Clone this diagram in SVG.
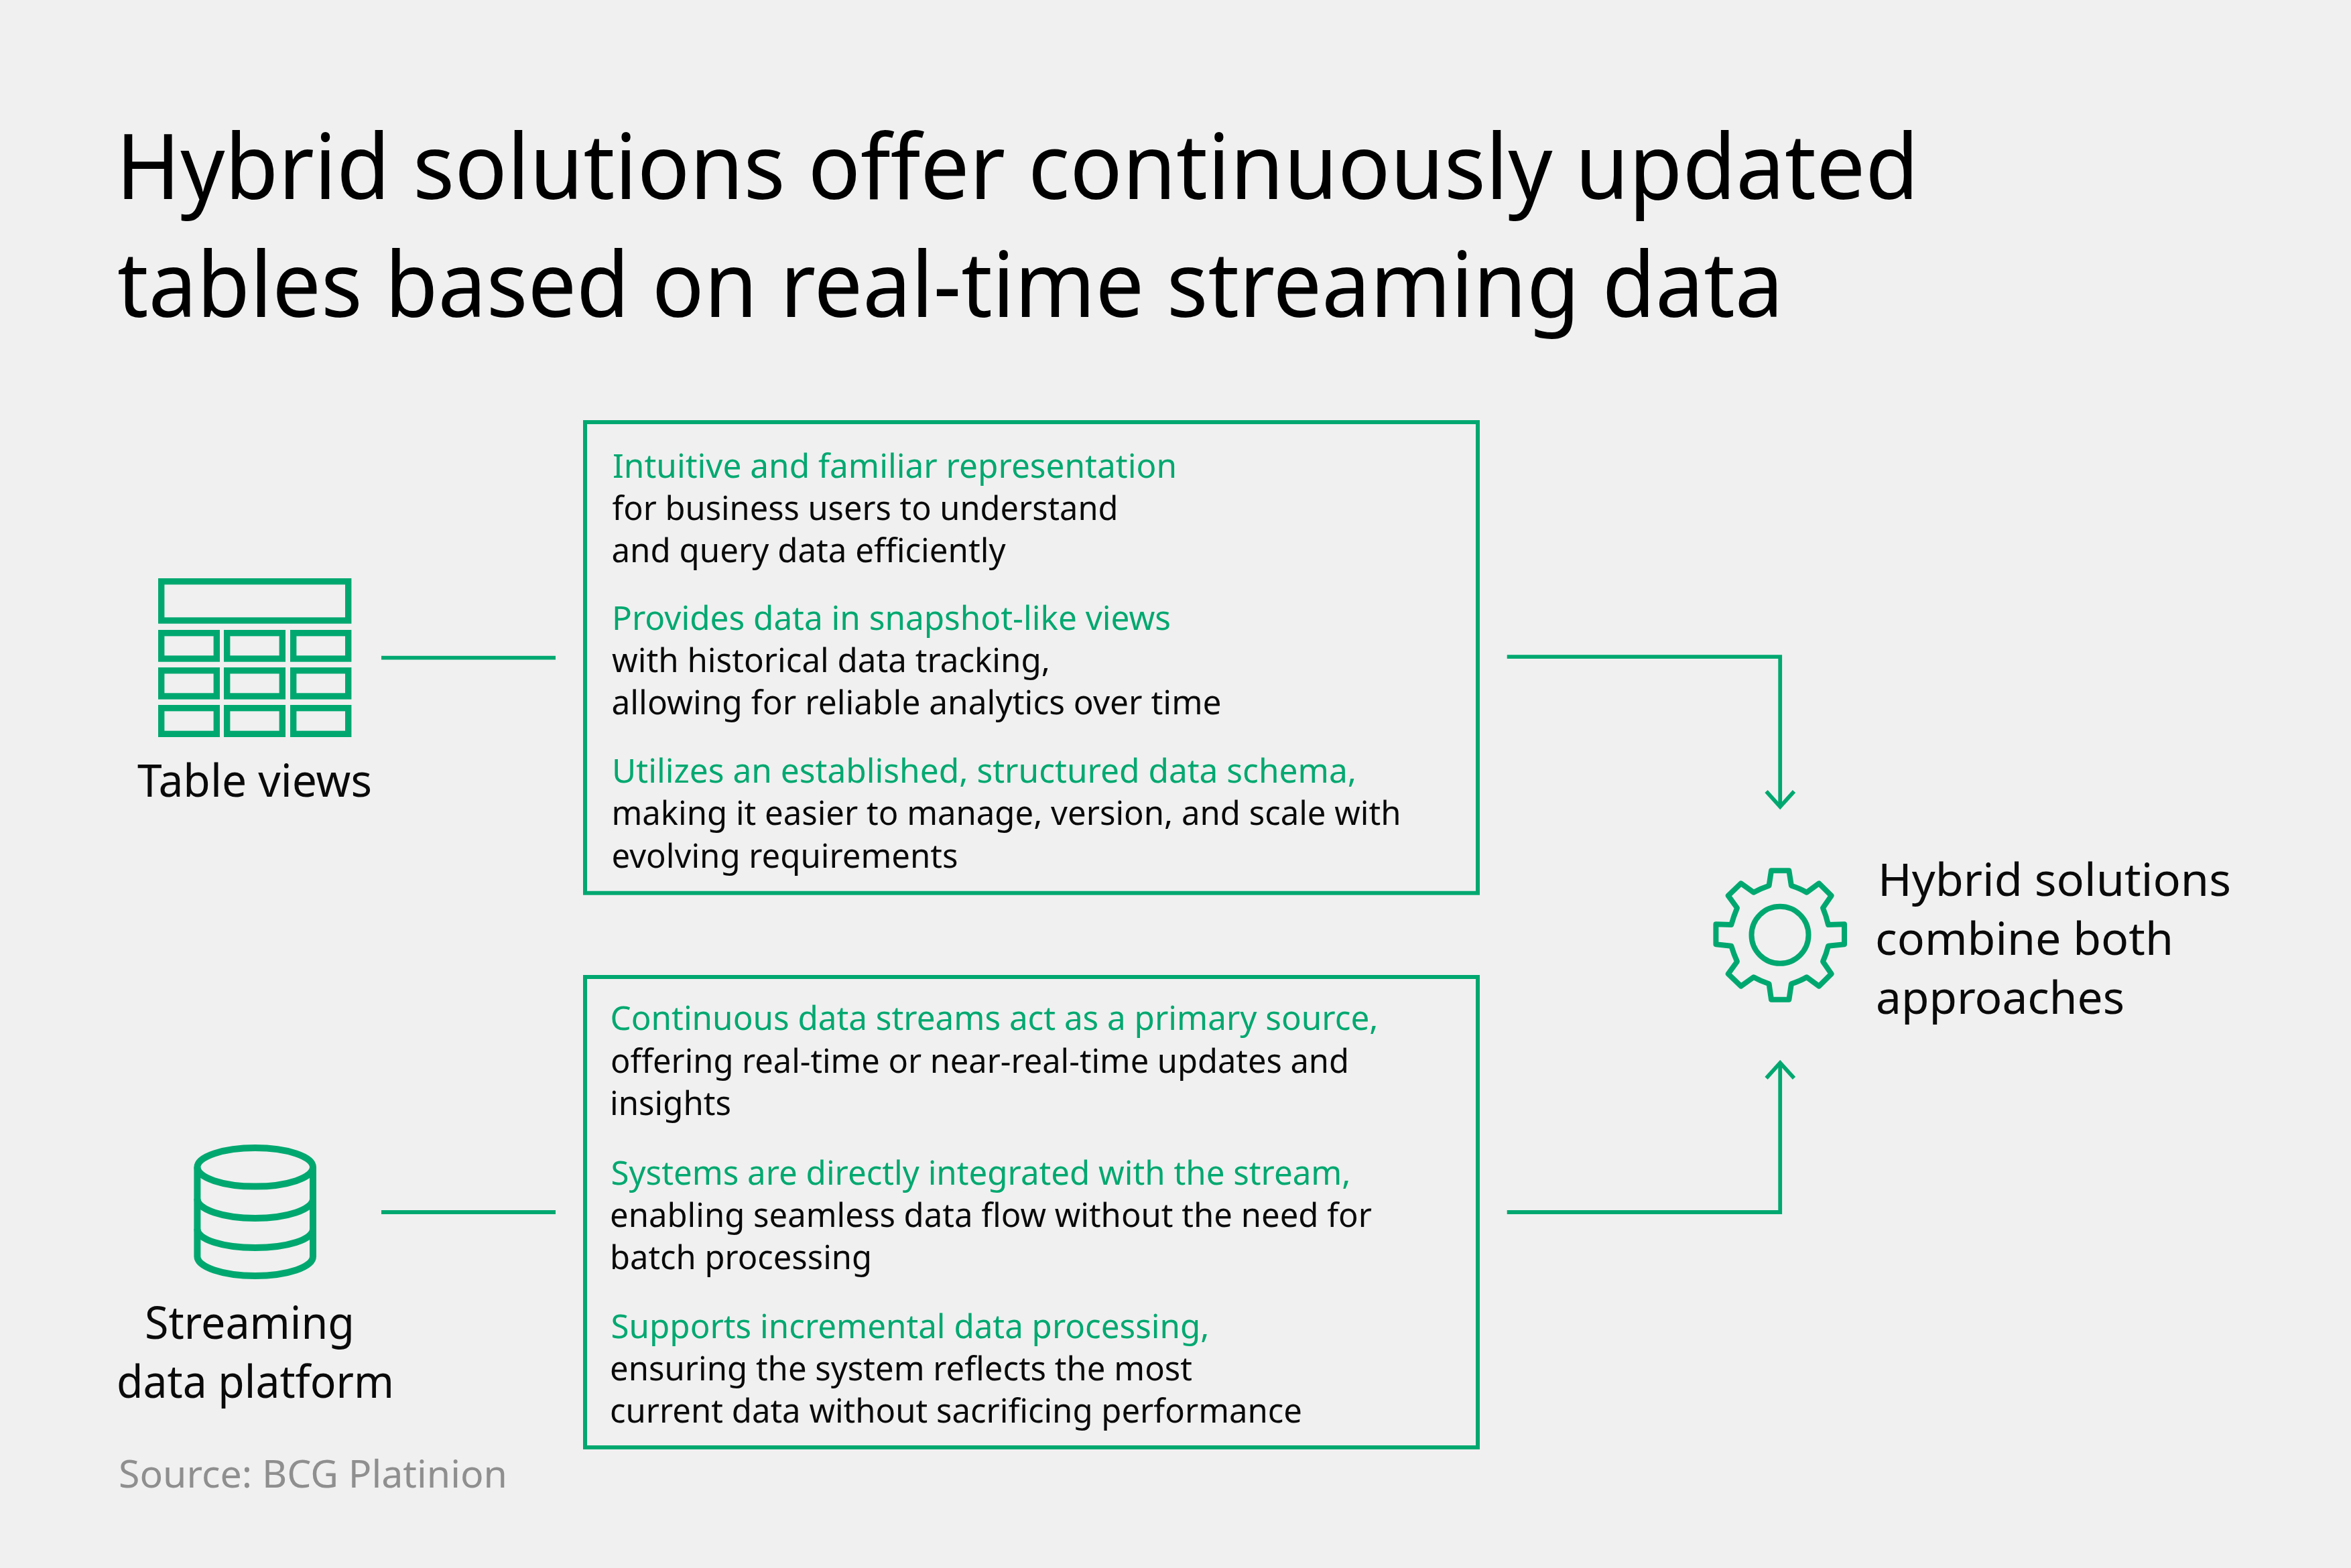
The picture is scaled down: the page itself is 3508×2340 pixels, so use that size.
<svg xmlns="http://www.w3.org/2000/svg" width="3508" height="2340" viewBox="0 0 3508 2340">
<style>
text{font-family:"Noto Sans","Open Sans","Liberation Sans",sans-serif;fill:#0a0a0a}
.t{font-size:136px;fill:#000}
.l{font-size:67px}
.b{font-size:50px}
.g{fill:#00a870}
.s{fill:#8f8f8f;font-size:56px}
.o{fill:none;stroke:#00a870;stroke-width:6}
.i{fill:none;stroke:#00a870;stroke-width:9.4}
</style>
<rect width="3508" height="2340" fill="#f0f0f0"/>
<g id="title">
<text class="t" x="173" y="296.700" textLength="2690" lengthAdjust="spacingAndGlyphs">Hybrid solutions offer continuously updated</text>
<text class="t" x="175" y="472.700" textLength="2486" lengthAdjust="spacingAndGlyphs">tables based on real-time streaming data</text>
</g>
<g id="table-views">
<g class="i">
<rect x="240.700" y="867.700" width="279" height="58.300"/>
<rect x="240.700" y="944.700" width="82.600" height="38.300"/><rect x="338.700" y="944.700" width="82.600" height="38.300"/><rect x="437.700" y="944.700" width="82" height="38.300"/>
<rect x="240.700" y="1000.700" width="82.600" height="38.300"/><rect x="338.700" y="1000.700" width="82.600" height="38.300"/><rect x="437.700" y="1000.700" width="82" height="38.300"/>
<rect x="240.700" y="1056.700" width="82.600" height="38.600"/><rect x="338.700" y="1056.700" width="82.600" height="38.600"/><rect x="437.700" y="1056.700" width="82" height="38.600"/>
</g>
<text class="l" x="205" y="1189" textLength="350" lengthAdjust="spacingAndGlyphs">Table views</text>
</g>
<g id="streaming">
<g class="i" style="stroke-width:10">
<ellipse cx="380.700" cy="1741.800" rx="86.300" ry="28.800"/>
<path d="M294.400 1741.800V1875C294.400 1891 333 1904 380.700 1904S467 1891 467 1875V1741.800"/>
<path d="M294.400 1789C294.400 1805 333 1818 380.700 1818S467 1805 467 1789"/>
<path d="M294.400 1834C294.400 1850 333 1862 380.700 1862S467 1850 467 1834"/>
</g>
<text class="l" x="216" y="1998" textLength="313" lengthAdjust="spacingAndGlyphs">Streaming</text>
<text class="l" x="174" y="2085.500" textLength="414" lengthAdjust="spacingAndGlyphs">data platform</text>
</g>
<g id="box-table">
<rect class="o" x="873" y="630" width="1332" height="702.700"/>
<text class="b g" x="914" y="713" textLength="842" lengthAdjust="spacingAndGlyphs">Intuitive and familiar representation</text>
<text class="b" x="913.500" y="775.500" textLength="755" lengthAdjust="spacingAndGlyphs">for business users to understand</text>
<text class="b" x="912.500" y="838.500" textLength="588" lengthAdjust="spacingAndGlyphs">and query data efficiently</text>
<text class="b g" x="913" y="939.500" textLength="834" lengthAdjust="spacingAndGlyphs">Provides data in snapshot-like views</text>
<text class="b" x="913" y="1002.500" textLength="654" lengthAdjust="spacingAndGlyphs">with historical data tracking,</text>
<text class="b" x="912.500" y="1066" textLength="910" lengthAdjust="spacingAndGlyphs">allowing for reliable analytics over time</text>
<text class="b g" x="913" y="1168" textLength="1111" lengthAdjust="spacingAndGlyphs">Utilizes an established, structured data schema,</text>
<text class="b" x="912.500" y="1231" textLength="1178" lengthAdjust="spacingAndGlyphs">making it easier to manage, version, and scale with</text>
<text class="b" x="912.500" y="1294.500" textLength="517" lengthAdjust="spacingAndGlyphs">evolving requirements</text>
</g>
<g id="box-stream">
<rect class="o" x="873" y="1458" width="1332" height="702"/>
<text class="b g" x="910.500" y="1537" textLength="1146" lengthAdjust="spacingAndGlyphs">Continuous data streams act as a primary source,</text>
<text class="b" x="911" y="1600.500" textLength="1102" lengthAdjust="spacingAndGlyphs">offering real-time or near-real-time updates and</text>
<text class="b" x="910" y="1663.500" textLength="181" lengthAdjust="spacingAndGlyphs">insights</text>
<text class="b g" x="911.500" y="1767.500" textLength="1104" lengthAdjust="spacingAndGlyphs">Systems are directly integrated with the stream,</text>
<text class="b" x="910" y="1830.500" textLength="1137" lengthAdjust="spacingAndGlyphs">enabling seamless data flow without the need for</text>
<text class="b" x="910" y="1893.500" textLength="391" lengthAdjust="spacingAndGlyphs">batch processing</text>
<text class="b g" x="911.500" y="1996.500" textLength="893" lengthAdjust="spacingAndGlyphs">Supports incremental data processing,</text>
<text class="b" x="910" y="2059.500" textLength="869" lengthAdjust="spacingAndGlyphs">ensuring the system reflects the most</text>
<text class="b" x="910" y="2122.500" textLength="1033" lengthAdjust="spacingAndGlyphs">current data without sacrificing performance</text>
</g>
<g id="hybrid">
<circle cx="2656" cy="1395.300" r="42.500" fill="none" stroke="#00a870" stroke-width="8"/>
<path fill="none" stroke="#00a870" stroke-width="8" stroke-linejoin="round" d="M2643 1299.300H2669.400L2672.900 1321.700Q2686 1326 2695.800 1331.700L2714.200 1318.300 2732.600 1336.700 2720 1355Q2725 1367 2728 1380L2752 1379.300V1409.300L2728 1411.700Q2725 1424 2720 1435L2732.600 1453.300 2714.200 1471.700 2695.800 1458.300Q2686 1464 2672.900 1468.300L2669.400 1491.700H2643L2639.600 1468.300Q2627 1464 2616.600 1458.300L2597.700 1471.700 2578.700 1453.300 2592 1435Q2587 1424 2583.300 1411.700L2560.400 1409.300V1379.300L2583.300 1380Q2587 1367 2592 1355L2578.700 1336.700 2597.700 1318.300 2616.600 1331.700Q2627 1326 2639.600 1321.700Z"/>
<text class="l" x="2802" y="1337" textLength="527" lengthAdjust="spacingAndGlyphs">Hybrid solutions</text>
<text class="l" x="2798" y="1425" textLength="445" lengthAdjust="spacingAndGlyphs">combine both</text>
<text class="l" x="2799" y="1512.500" textLength="371" lengthAdjust="spacingAndGlyphs">approaches</text>
</g>
<g id="connectors" fill="none" stroke="#00a870" stroke-width="5.800">
<path d="M569 981.700H829"/>
<path d="M569 1809H829"/>
<path d="M2248.700 980.200H2656.200V1203"/>
<path d="M2635.500 1181L2656.200 1204 2677 1181"/>
<path d="M2248.700 1809H2656.200V1586.500"/>
<path d="M2635.500 1609L2656.200 1586 2677 1609"/>
</g>
<text class="s" x="177" y="2220" textLength="580" lengthAdjust="spacingAndGlyphs">Source: BCG Platinion</text>
</svg>
